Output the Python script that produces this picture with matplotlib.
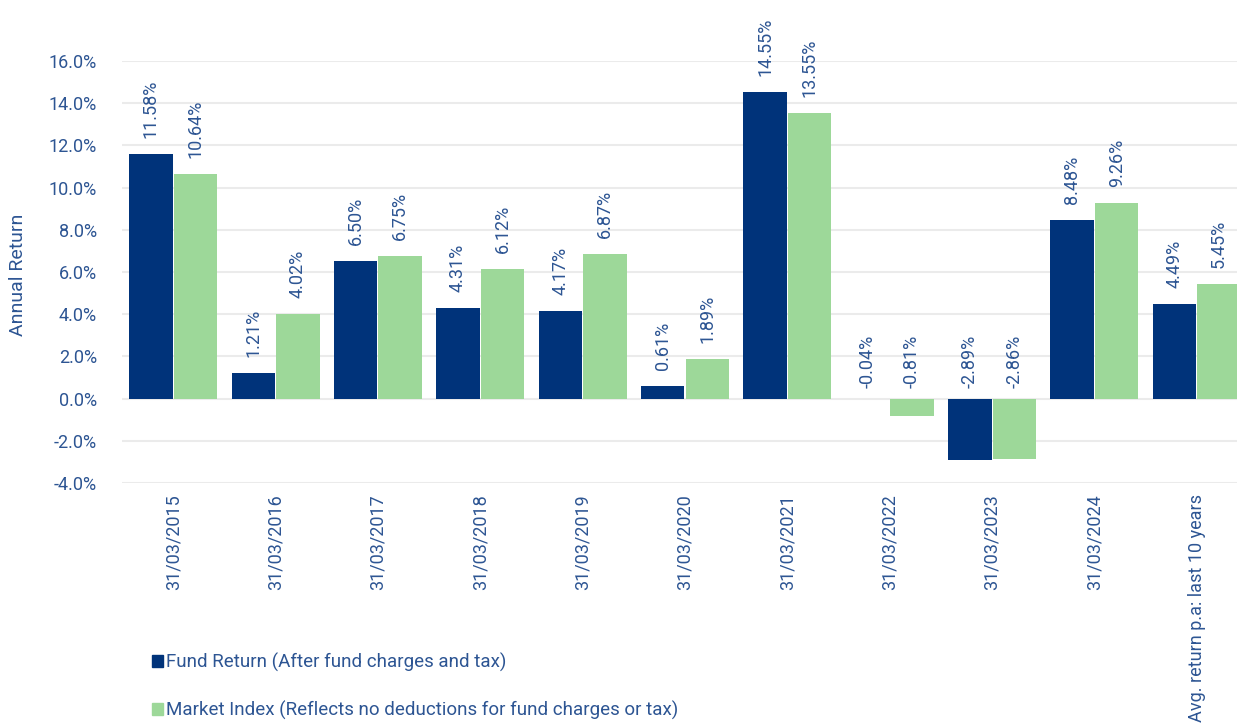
import numpy as np
import matplotlib
matplotlib.use("Agg")
import matplotlib.pyplot as plt
from matplotlib.patches import Patch
from matplotlib.ticker import FuncFormatter

# ---------------------------------------------------------
# Data
# ---------------------------------------------------------
categories = ["31/03/2015", "31/03/2016", "31/03/2017", "31/03/2018",
              "31/03/2019", "31/03/2020", "31/03/2021", "31/03/2022",
              "31/03/2023", "31/03/2024", "Avg. return p.a: last 10 years"]
fund_return = [11.58, 1.21, 6.50, 4.31, 4.17, 0.61, 14.55, -0.04, -2.89, 8.48, 4.49]
market_index = [10.64, 4.02, 6.75, 6.12, 6.87, 1.89, 13.55, -0.81, -2.86, 9.26, 5.45]
series_names = ["Fund Return (After fund charges and tax)",
                "Market Index (Reflects no deductions for fund charges or tax)"]

# ---------------------------------------------------------
# Styling
# ---------------------------------------------------------
BLUE = "#00337A"
GREEN = "#9DD899"
TEXT = "#2D5593"
GRID = "#EBEBEB"
plt.rcParams["font.family"] = ["Roboto", "DejaVu Sans"]

fig = plt.figure(figsize=(12.37, 7.25), dpi=100)
# axes runs a little past the right edge so the last bar is cut like the original
ax = fig.add_axes([122 / 1237, 1 - 483 / 725, 1126 / 1237, (483 - 61) / 725])

x = np.arange(len(categories))
width = 0.425
gap = 0.005
b1 = ax.bar(x - width / 2 - gap, fund_return, width, color=BLUE, zorder=3)
b2 = ax.bar(x + width / 2 + gap, market_index, width, color=GREEN, zorder=3)

# value labels above bars (negatives sit above the zero line)
for bars, vals in ((b1, fund_return), (b2, market_index)):
    for bar, v in zip(bars, vals):
        off = 11.5 if v > 0 else 7.5
        ax.annotate(f"{v:.2f}%", (bar.get_x() + bar.get_width() / 2, max(v, 0)),
                    xytext=(0, off), textcoords="offset points",
                    rotation=90, ha="center", va="bottom",
                    fontsize=13, color=TEXT, annotation_clip=False)

ax.set_ylim(-4, 16)
ax.set_xlim(-0.5, len(categories) - 0.5)
ax.set_yticks(np.arange(-4, 17, 2))
ax.yaxis.set_major_formatter(FuncFormatter(lambda v, p: f"{v:.1f}%"))
ax.set_xticks(x)
ax.set_xticklabels(categories, rotation=90, va="top", ha="center")
ax.tick_params(axis="both", length=0, labelsize=13, colors=TEXT)
ax.tick_params(axis="y", pad=18)
ax.tick_params(axis="x", pad=8)

ax.grid(axis="y", color=GRID, linewidth=1.5, zorder=0)
for s in ax.spines.values():
    s.set_visible(False)

fig.text(18 / 1237, 1 - 275 / 725, "Annual Return", rotation=90,
         ha="center", va="center", fontsize=14, color=TEXT)

handles = [Patch(color=BLUE), Patch(color=GREEN)]
fig.legend(handles, series_names, loc="upper left",
           bbox_to_anchor=(135 / 1237, 1 - 636 / 725), frameon=False,
           handlelength=0.6, handleheight=0.6, handletextpad=0.15,
           labelspacing=1.55, fontsize=13.5, labelcolor=TEXT)

fig.savefig("out.png", dpi=100)
